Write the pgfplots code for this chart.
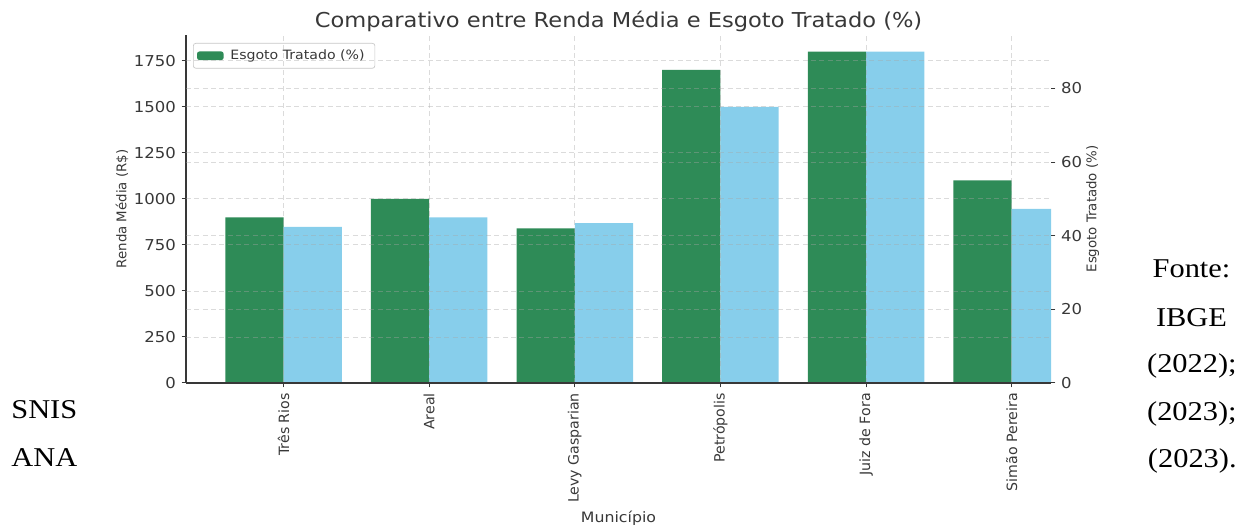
\documentclass[border=0pt]{standalone}
\usepackage{pgfplots}
\usepackage{pgfplotstable}
\pgfplotsset{compat=1.18}
\usepackage{fontspec}
\setmainfont[FakeStretch=1.1]{DejaVu Sans}
\newfontfamily\rotf{DejaVu Sans}
\newfontfamily\srf[FakeStretch=1.12]{Liberation Serif}

\definecolor{sgreen}{HTML}{2E8B57}
\definecolor{sblue}{HTML}{87CEEB}
\definecolor{txt}{HTML}{383838}

% renda media (R$) e esgoto tratado (%)
\pgfplotstableread{
x renda esgoto
0 900 42.4
1 1000 45
2 840 43.4
3 1700 75
4 1800 90
5 1100 47.3
}\dados

\begin{document}
\begin{tikzpicture}
\path[use as bounding box] (0pt,0pt) rectangle (748.2pt,315pt);

\pgfplotsset{
  base/.style={
    at={(111.6pt,85.2pt)}, anchor=south west,
    scale only axis, width=519pt, height=208.8pt,
    xmin=-0.67, xmax=5.27, ymin=0,
    ybar, bar width=0.4,
    tick align=outside, major tick length=2.6pt,
    tick style={draw=txt, line width=0.6pt},
    ticklabel style={font=\fontsize{9}{10}\selectfont, text=txt},
    /pgf/number format/assume math mode=true,
    /pgf/number format/1000 sep={},
    label style={text=txt},
    axis on top,
  }
}

\begin{axis}[base,
  ymax=1890,
  axis x line*=bottom, axis y line*=left,
  axis line style={draw=txt, line width=0.8pt},
  xtick={0,...,5},
  xticklabels={Três Rios, Areal, Levy Gasparian, Petrópolis, Juiz de Fora, Simão Pereira},
  xticklabel style={rotate=90, anchor=east, font=\rotf\fontsize{8.5}{10}\selectfont},
  ytick={0,250,...,1750},
  ylabel={Renda Média (R\$)},
  ylabel style={font=\rotf\fontsize{8}{10}\selectfont, yshift=-3.6pt},
  xlabel={Município},
  xlabel style={font=\fontsize{8.6}{10}\selectfont, yshift=2pt},
  title={Comparativo entre Renda Média e Esgoto Tratado (\%)},
  title style={at={(0.5,1)}, anchor=base, yshift=-1.6pt, text=txt,
    font=\fontsize{12.3}{14}\selectfont},
  legend style={at={(0,1)}, anchor=north west, xshift=4.2pt, yshift=-4.8pt,
    draw=black!22, rounded corners=1.5pt, fill=white, fill opacity=0.8,
    text opacity=1, font=\fontsize{7.7}{9}\selectfont, text=txt,
    inner xsep=2.2pt, inner ysep=1.8pt,
    nodes={inner xsep=4pt}},
]
\addplot[fill=sgreen, draw=none, bar shift=-0.2,
  legend image code/.code={\fill[sgreen, fill opacity=1] (0pt,-2.6pt) rectangle (16pt,2.6pt);}]
  table[x=x, y=renda] {\dados};
\addlegendentry{Esgoto Tratado (\%)}
\end{axis}

\begin{axis}[base,
  ymax=94.5,
  axis x line*=bottom, axis y line*=right,
  x axis line style={draw=txt, line width=0.8pt},
  y axis line style={draw=none},
  xtick={0,...,5}, xticklabels={}, xtick style={draw=none},
  ytick={0,20,...,80},
  extra y ticks={12.5,25,37.5,50,62.5,75,87.5},
  extra y tick labels={},
  extra y tick style={grid=major, major tick length=0pt},
  grid=major,
  grid style={densely dashed, gray!70, opacity=0.4, line width=0.5pt},
  ylabel={Esgoto Tratado (\%)},
  ylabel style={font=\rotf\fontsize{8}{10}\selectfont, yshift=7pt},
]
\addplot[fill=sblue, draw=none, bar shift=0.2]
  table[x=x, y=esgoto] {\dados};
\end{axis}

\begin{scope}[x=0.6pt, y=0.6pt, font=\srf\fontsize{16.3}{20}\selectfont]
\node[anchor=base, inner sep=0] at (1191.5,247) {Fonte:};
\node[anchor=base, inner sep=0] at (1191.5,198) {IBGE};
\node[anchor=base east, inner sep=0] at (1237,152) {(2022);};
\node[anchor=base east, inner sep=0] at (1237,104) {(2023);};
\node[anchor=base east, inner sep=0] at (1237,57) {(2023).};
\node[anchor=base west, inner sep=0] at (11,106) {SNIS};
\node[anchor=base west, inner sep=0] at (11,58) {ANA};
\end{scope}
\end{tikzpicture}
\end{document}
